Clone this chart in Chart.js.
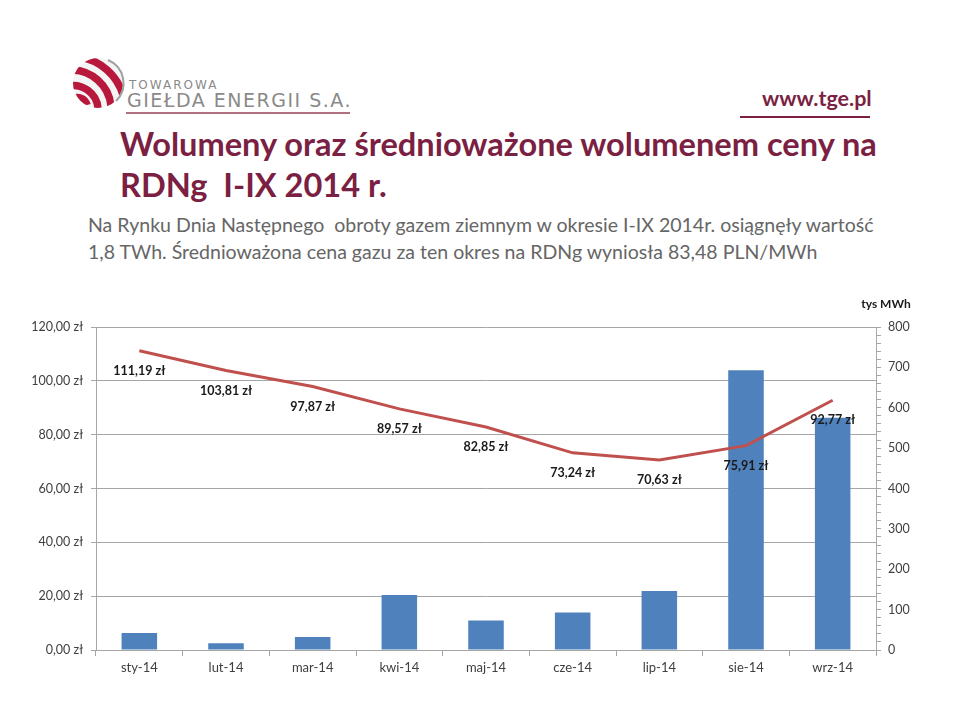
<!DOCTYPE html>
<html>
<head>
<meta charset="utf-8">
<script src="https://cdn.jsdelivr.net/npm/chart.js@4/dist/chart.umd.min.js"></script>
<style>
  body { margin: 0; width: 960px; height: 722px; background: #fff; overflow: hidden; position: relative; font-family: Lato, "Open Sans", sans-serif; }
  .abs { position: absolute; white-space: nowrap; }
  #title { left: 120px; top: 123px; font-size: 32.6px; font-weight: bold; color: #7b1f43; line-height: 41px; }
  #sub { left: 88px; top: 211px; font-size: 19.55px; color: #666; line-height: 27px; }
  #tge1 { left: 129px; top: 78px; font-size: 12px; color: #8a8a8a; letter-spacing: 2px; font-family: "DejaVu Sans", sans-serif; }
  #tge2 { left: 127px; top: 89px; font-size: 19px; color: #8a8a8a; letter-spacing: 1.5px; font-family: "DejaVu Sans", sans-serif; }
  #www { left: 762px; top: 85px; font-size: 21.5px; font-weight: bold; color: #7b1f43; }
  #chart { position: absolute; left: 0; top: 290px; }
</style>
</head>
<body>
<svg class="abs" style="left:0;top:0" width="960" height="130">
  <defs>
    <clipPath id="ball"><circle cx="98" cy="83" r="25"/></clipPath>
  </defs>
  <circle cx="98" cy="83" r="25" fill="#f4f4f4"/>
  <g clip-path="url(#ball)" fill="none" stroke="#b8183c" stroke-width="7.5">
    <path d="M 72 99 A 10 10 0 0 1 87 105"/>
    <path d="M 68 86 A 25 25 0 0 1 98 108"/>
    <path d="M 70 70 A 40 40 0 0 1 111 106"/>
    <path d="M 80 57 A 54 54 0 0 1 123 95"/>
  </g>
  <path d="M 108 60 A 25 25 0 0 1 116 101" stroke="#a0a0a0" stroke-width="2" fill="none"/>
  <line x1="126" y1="113" x2="350" y2="113" stroke="#b07080" stroke-width="2"/>
  <line x1="740" y1="117" x2="870" y2="117" stroke="#7b1f43" stroke-width="2"/>
</svg>
<div id="tge1" class="abs">TOWAROWA</div>
<div id="tge2" class="abs">GIEŁDA ENERGII S.A.</div>
<div id="www" class="abs">www.tge.pl</div>
<div id="title" class="abs">Wolumeny oraz średnioważone wolumenem ceny na<br>RDNg&nbsp; I-IX 2014 r.</div>
<div id="sub" class="abs">Na Rynku Dnia Następnego&nbsp; obroty gazem ziemnym w okresie I-IX 2014r. osiągnęły wartość<br>1,8 TWh. Średnioważona cena gazu za ten okres na RDNg wyniosła 83,48 PLN/MWh</div>
<canvas id="chart" width="960" height="432"></canvas>
<script>
// miesiace
const months = ['sty-14', 'lut-14', 'mar-14', 'kwi-14', 'maj-14', 'cze-14', 'lip-14', 'sie-14', 'wrz-14'];
// wolumen, tys MWh (prawa os)
const volumes = [42, 17, 32, 136, 73, 93, 146, 693, 575];
// cena srednioważona, zł/MWh (lewa os)
const prices = [111.19, 103.81, 97.87, 89.57, 82.85, 73.24, 70.63, 75.91, 92.77];

const fmtZl = (v) => v.toFixed(2).replace('.', ',') + ' zł';

const gridGray = '#a6a6a6';
const tickText = '#404040';

// etykiety ceny pod linia
const priceLabels = {
    id: 'priceLabels',
    afterDatasetsDraw: (chart) => {
        const ctx = chart.ctx;
        const meta = chart.getDatasetMeta(1);
        ctx.save();
        ctx.font = 'bold 12.5px Lato, sans-serif';
        ctx.fillStyle = '#1a1a1a';
        ctx.textAlign = 'center';
        ctx.textBaseline = 'middle';
        meta.data.forEach((pt, i) => {
            ctx.fillText(fmtZl(prices[i]), pt.x, pt.y + 20);
        });
        // tytul prawej osi
        ctx.font = 'bold 12px Lato, sans-serif';
        ctx.fillText('tys MWh', chart.chartArea.right + 10, chart.chartArea.top - 23);
        ctx.restore();
    }
};

new Chart('chart', {
    type: 'bar',
    data: {
        labels: months,
        datasets: [{
            type: 'bar',
            data: volumes,
            yAxisID: 'y1',
            backgroundColor: '#4f81bd',
            barPercentage: 0.41,
            categoryPercentage: 1,
            order: 2
        }, {
            type: 'line',
            data: prices,
            yAxisID: 'y',
            borderColor: '#c0504d',
            borderWidth: 3,
            pointRadius: 0,
            tension: 0,
            fill: false,
            order: 1
        }]
    },
    options: {
        responsive: false,
        animation: false,
        devicePixelRatio: 1,
        layout: {padding: {top: 37, right: 0, bottom: 0, left: 0}},
        plugins: {legend: {display: false}, tooltip: {enabled: false}},
        scales: {
            x: {
                afterFit: (s) => { s.height = 72; },
                grid: {offset: true, drawOnChartArea: false, tickLength: 6, color: gridGray},
                border: {color: gridGray},
                ticks: {color: tickText, font: {family: 'Lato', size: 13}, padding: 4}
            },
            y: {
                position: 'left',
                min: 0, max: 120,
                afterFit: (s) => { s.width = 96; },
                grid: {color: gridGray, tickLength: 5},
                border: {color: gridGray},
                ticks: {stepSize: 20, color: tickText, font: {family: 'Lato', size: 12.5}, padding: 8, callback: (v) => fmtZl(v)}
            },
            y1: {
                position: 'right',
                min: 0, max: 800,
                afterFit: (s) => { s.width = 84; },
                grid: {drawOnChartArea: false, tickLength: 5, color: gridGray},
                border: {color: gridGray},
                ticks: {stepSize: 20, maxTicksLimit: 100, autoSkip: false, color: tickText, font: {family: 'Lato', size: 12.5}, padding: 7,
                    callback: (v) => (v % 100 === 0 ? String(v) : '')}
            }
        }
    },
    plugins: [priceLabels]
});
</script>
</body>
</html>
